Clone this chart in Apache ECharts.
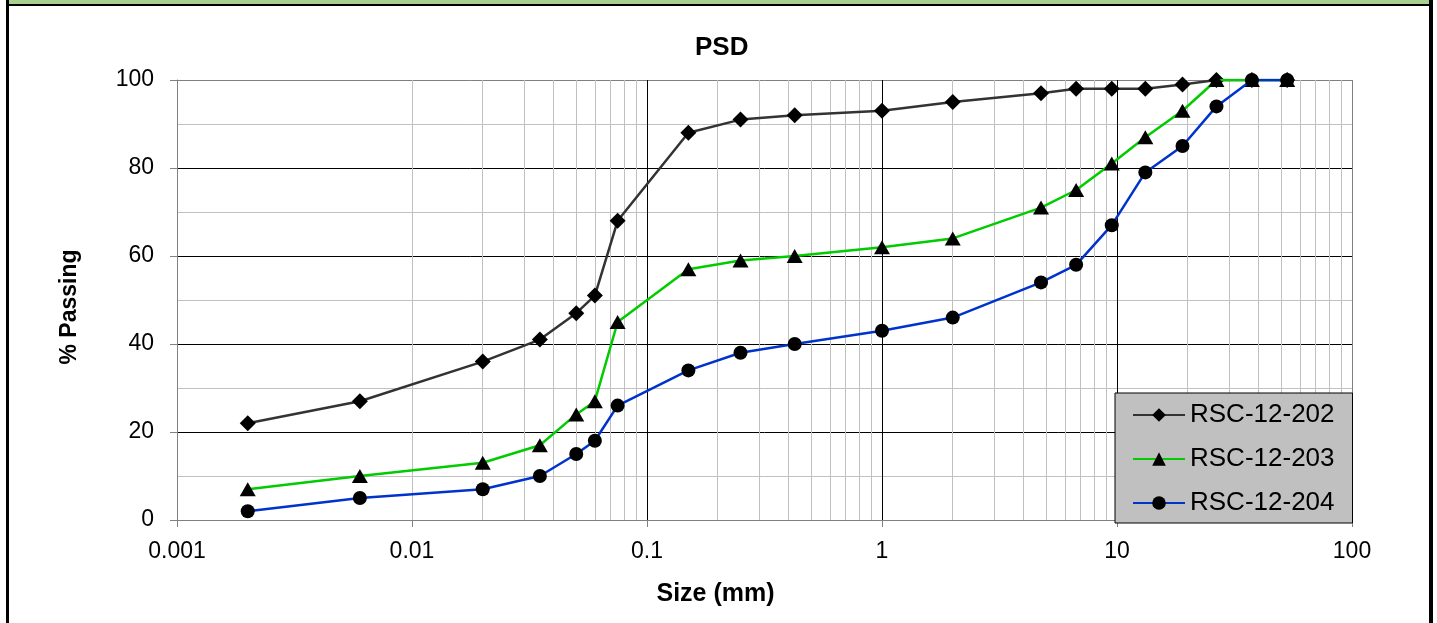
<!DOCTYPE html>
<html>
<head>
<meta charset="utf-8">
<script src="https://cdn.jsdelivr.net/npm/echarts@6/dist/echarts.min.js"></script>
<style>
  html, body { margin: 0; padding: 0; background: #ffffff; }
  #chart { width: 1437px; height: 623px; }
</style>
</head>
<body>
<div id="chart"></div>
<script>
// ---- data ----
var sizesMm = [0.002, 0.006, 0.02, 0.035, 0.05, 0.06, 0.075, 0.15, 0.25, 0.425, 1, 2, 4.75, 6.7, 9.5, 13.2, 19, 26.5, 37.5, 53];
var rsc202 = [22, 27, 36, 41, 47, 51, 68, 88, 91, 92, 93, 95, 97, 98, 98, 98, 99, 100, 100, 100];
var rsc203 = [7, 10, 13, 17, 24, 27, 45, 57, 59, 60, 62, 64, 71, 75, 81, 87, 93, 100, 100, 100];
var rsc204 = [2, 5, 7, 10, 15, 18, 26, 34, 38, 40, 43, 46, 54, 58, 67, 79, 85, 94, 100, 100];
var seriesNames = ['RSC-12-202', 'RSC-12-203', 'RSC-12-204'];
var xTickLabels = ['0.001', '0.01', '0.1', '1', '10', '100'];
var yTickLabels = ['0', '20', '40', '60', '80', '100'];
var xMinorGrid = [0.002, 0.003, 0.004, 0.005, 0.006, 0.007, 0.008, 0.009,
                  0.02, 0.03, 0.04, 0.05, 0.06, 0.07, 0.08, 0.09,
                  0.2, 0.3, 0.4, 0.5, 0.6, 0.7, 0.8, 0.9,
                  2, 3, 4, 5, 6, 7, 8, 9,
                  20, 30, 40, 50, 60, 70, 80, 90];

function pairs(xs, ys) { return xs.map(function (x, i) { return [x, ys[i]]; }); }

var FONT = 'Liberation Sans';
var chart = echarts.init(document.getElementById('chart'), null, { renderer: 'canvas' });

var option = {
  backgroundColor: '#ffffff',
  animation: false,
  title: {
    text: 'PSD',
    left: 695,
    top: 35,
    padding: 0,
    textStyle: { fontFamily: FONT, fontWeight: 'bold', fontSize: 26, color: '#000' }
  },
  grid: { left: 177, right: 85, top: 80, bottom: 103, containLabel: false },
  xAxis: {
    type: 'log',
    logBase: 10,
    min: 0.001,
    max: 100,
    name: 'Size (mm)',
    nameLocation: 'middle',
    nameGap: 62,
    nameTextStyle: { fontFamily: FONT, fontWeight: 'bold', fontSize: 25, color: '#000', padding: [0, 98, 0, 0] },
    axisLine: { show: true, lineStyle: { color: '#808080', width: 1 } },
    axisTick: { show: true, inside: false, length: 7, lineStyle: { color: '#808080' } },
    axisLabel: {
      margin: 20,
      fontFamily: FONT, fontSize: 23, color: '#000',
      formatter: function (v) { return xTickLabels[Math.round(Math.log10(v)) + 3]; }
    },
    splitLine: { show: true, lineStyle: { color: ['#808080', '#000', '#000', '#000', '#000', '#808080'], width: 1 } }
  },
  yAxis: {
    type: 'value',
    min: 0,
    max: 100,
    interval: 20,
    name: '% Passing',
    nameLocation: 'middle',
    nameGap: 96,
    nameRotate: 90,
    nameTextStyle: { fontFamily: FONT, fontWeight: 'bold', fontSize: 23, color: '#000', padding: [0, 14, 0, 0] },
    axisLine: { show: true, lineStyle: { color: '#808080', width: 1 } },
    axisTick: { show: true, inside: false, length: 7, lineStyle: { color: '#808080' } },
    axisLabel: {
      margin: 23,
      fontFamily: FONT, fontSize: 23, color: '#000',
      formatter: function (v) { return yTickLabels[Math.round(v / 20)]; }
    },
    splitLine: { show: true, lineStyle: { color: ['#808080', '#000', '#000', '#000', '#000', '#808080'], width: 1 } },
    minorTick: { show: false, splitNumber: 2 },
    minorSplitLine: { show: true, lineStyle: { color: '#c0c0c0', width: 1 } }
  },
  legend: {
    orient: 'vertical',
    left: 1115,
    top: 393,
    padding: [9, 18, 7, 17],
    backgroundColor: '#c0c0c0',
    borderColor: '#000',
    borderWidth: 1,
    borderRadius: 0,
    itemWidth: 52,
    itemHeight: 17,
    itemGap: 18,
    textStyle: { fontFamily: FONT, fontSize: 26, color: '#000', padding: [0, 0, 0, 0] },
    data: seriesNames
  },
  series: [
    {
      name: seriesNames[0],
      type: 'line',
      data: pairs(sizesMm, rsc202),
      symbol: 'diamond',
      symbolSize: 16,
      showAllSymbol: true,
      lineStyle: { color: '#333333', width: 2.5 },
      itemStyle: { color: '#000' },
      z: 3,
      markLine: {
        silent: true,
        z: 1,
        symbol: 'none',
        label: { show: false },
        emphasis: { disabled: true },
        lineStyle: { color: '#c0c0c0', type: 'solid', width: 1 },
        data: xMinorGrid.map(function (v) { return { xAxis: v }; })
      }
    },
    {
      name: seriesNames[1],
      type: 'line',
      data: pairs(sizesMm, rsc203),
      symbol: 'triangle',
      symbolSize: [16, 14],
      showAllSymbol: true,
      lineStyle: { color: '#00cc00', width: 2.5 },
      itemStyle: { color: '#000' },
      z: 4
    },
    {
      name: seriesNames[2],
      type: 'line',
      data: pairs(sizesMm, rsc204),
      symbol: 'circle',
      symbolSize: 14,
      showAllSymbol: true,
      lineStyle: { color: '#0033cc', width: 2.5 },
      itemStyle: { color: '#000' },
      z: 5
    }
  ],
  graphic: [
    { type: 'rect', shape: { x: 9, y: 0, width: 1420, height: 4 }, style: { fill: '#a9d08e' }, silent: true },
    { type: 'rect', shape: { x: 6, y: 4, width: 1427, height: 2 }, style: { fill: '#000' }, silent: true },
    { type: 'rect', shape: { x: 6, y: 0, width: 3, height: 623 }, style: { fill: '#000' }, silent: true },
    { type: 'rect', shape: { x: 1429, y: 0, width: 4, height: 623 }, style: { fill: '#000' }, silent: true }
  ]
};
chart.setOption(option);
</script>
</body>
</html>
